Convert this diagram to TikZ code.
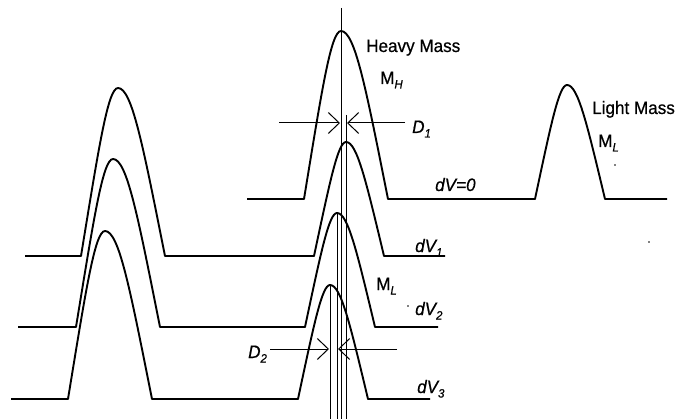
\documentclass[tikz,border=0pt]{standalone}
\usepackage{fontspec}
\setmainfont{Liberation Sans}[FakeStretch=0.95,FakeBold=0.6]
\usetikzlibrary{arrows.meta}
% heavy-mass peak (apex x, baseline y) and light-mass peak
\newcommand\hpk[2]{-- (#1-37,#2) .. controls (#1-19,#2-110) and (#1-10,#2-168) .. (#1,#2-168) .. controls (#1+14,#2-168) and (#1+25,#2-110) .. (#1+47,#2)}
\newcommand\lpk[2]{-- (#1-32,#2) .. controls (#1-16,#2-75) and (#1-8,#2-114) .. (#1,#2-114) .. controls (#1+11,#2-114) and (#1+20,#2-75) .. (#1+38,#2)}
\newcommand\lsub[1]{\raisebox{-4.5pt}{\fontsize{12}{13}\selectfont\itshape #1}}
\begin{document}
\begin{tikzpicture}[x=1pt,y=-1pt,
  curve/.style={line width=1.9pt, line join=round},
  vline/.style={line width=0.9pt},
  dim/.style={line width=1pt, -{Straight Barb[length=11pt,width=21pt,line width=1pt]}},
  lab/.style={inner sep=0pt, anchor=base west, font=\fontsize{18}{21}\selectfont}]
\useasboundingbox (0,0) rectangle (676,419);

% vertical reference lines
\coordinate (vmT) at (341,8);   \coordinate (vmB) at (341,419);
\coordinate (v1T) at (346,115); \coordinate (v1B) at (346,419);
\coordinate (v2T) at (337,213); \coordinate (v2B) at (337,419);
\coordinate (v3T) at (330,286); \coordinate (v3B) at (330,419);
\draw[vline] (vmT) -- (vmB);
\draw[vline] (v1T) -- (v1B);
\draw[vline] (v2T) -- (v2B);
\draw[vline] (v3T) -- (v3B);

% spectra
\draw[curve] (247,199) \hpk{341}{199} \lpk{567}{199} -- (667,199);
\draw[curve] (25,256) \hpk{118}{256} \lpk{346}{256} -- (445,256);
\draw[curve] (18,327) \hpk{113}{327} \lpk{337}{327} -- (438,327);
\draw[curve] (11,399) \hpk{105}{399} \lpk{330}{399} -- (430,399);

% dimension arrows
\coordinate (d1a) at (279,123); \coordinate (d1b) at (340,123);
\coordinate (d1c) at (405,123); \coordinate (d1d) at (347,123);
\draw[dim] (d1a) -- (d1b);
\draw[dim] (d1c) -- (d1d);
\coordinate (d2a) at (270,349); \coordinate (d2b) at (329,349);
\coordinate (d2c) at (397,349); \coordinate (d2d) at (338,349);
\draw[dim] (d2a) -- (d2b);
\draw[dim] (d2c) -- (d2d);

% labels
\node[lab] (hm)  at (366,52)  {Heavy Mass};
\node[lab] (mh)  at (380,84)  {M\lsub{H}};
\node[lab] (dd1) at (412,133) {\itshape D\lsub{1}};
\node[lab] (dv0) at (435,191) {\itshape dV=0};
\node[lab] (lm)  at (592,114) {Light Mass};
\node[lab] (ml1) at (598,147) {M\lsub{L}};
\node[lab] (dv1) at (415,252) {\itshape dV\lsub{1}};
\node[lab] (ml2) at (376,290) {M\lsub{L}};
\node[lab] (dv2) at (415,315) {\itshape dV\lsub{2}};
\node[lab] (dv3) at (417,393) {\itshape dV\lsub{3}};
\node[lab] (dd2) at (248,358) {\itshape D\lsub{2}};

% specks
\fill (615,165) circle (0.9);
\fill (649,242) circle (0.9);
\fill (408,306) circle (0.9);
\end{tikzpicture}
\end{document}
